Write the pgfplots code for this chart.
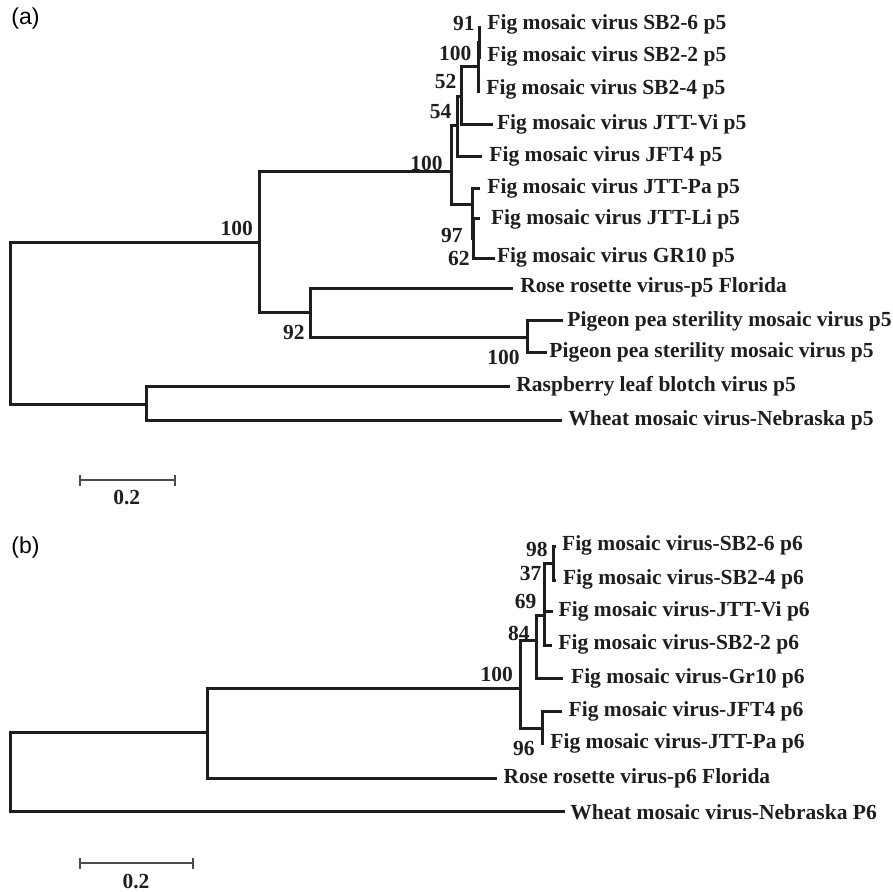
\documentclass[border=0pt]{standalone}
\usepackage{fontspec}
\setmainfont{Liberation Serif}
\newfontfamily\arialfont{Liberation Sans}
\usepackage{pgfplots}
\pgfplotsset{compat=1.18}
\definecolor{tree}{RGB}{30,30,30}
\definecolor{barc}{RGB}{75,75,75}
\tikzset{
  lbl/.style={font=\fontsize{10.75}{12}\selectfont\bfseries, text=tree, inner sep=0pt},
  bs/.style={font=\fontsize{10.75}{12}\selectfont\bfseries, text=tree, inner sep=0pt, anchor=east},
  panel/.style={font=\arialfont\fontsize{11.5}{13}\selectfont, text=black, inner sep=0pt, anchor=west},
}
\pgfplotsset{
  br/.style={color=tree, line width=1.5pt, mark=none, line join=miter},
  sb/.style={color=barc, line width=1pt, mark=none},
}
\begin{document}
\begin{tikzpicture}
\useasboundingbox (0,0) rectangle (446.5pt,-445.5pt);
% ---------------- panel (a): x in substitutions per site, y = row position
\begin{axis}[at={(0pt,0pt)}, anchor=north west, scale only axis,
  width=446.5pt, height=260pt,
  xmin=-0.02105, xmax=1.85895, ymin=0, ymax=520, y dir=reverse,
  hide axis, clip=false]
\addplot[br] coordinates {(0.5263,242.7) (0,242.7) (0,404) (0.2884,404)};
\addplot[br] coordinates {(1.0526,386.7) (0.2884,386.7) (0.2884,420) (1.1621,420)};
\addplot[br] coordinates {(0.9299,171.7) (0.5263,171.7) (0.5263,312.7) (0.6316,312.7)};
\addplot[br] coordinates {(1.0589,288.3) (0.6316,288.3) (0.6316,337.3) (1.0905,337.3)};
\addplot[br] coordinates {(1.1642,320.7) (1.0905,320.7) (1.0905,352.7) (1.1305,352.7)};
\addplot[br] coordinates {(0.9417,125.7) (0.9299,125.7) (0.9299,204) (0.9741,204)};
\addplot[br] coordinates {(0.9509,96.7) (0.9417,96.7) (0.9417,156.7) (0.9931,156.7)};
\addplot[br] coordinates {(0.9859,66.7) (0.9509,66.7) (0.9509,124) (1.0175,124)};
\addplot[br] coordinates {(0.9884,42) (0.9859,42) (0.9859,91) (0.9895,91)};
\addplot[br] coordinates {(0.9916,27) (0.9884,27) (0.9884,57) (0.9916,57)};
\addplot[br] coordinates {(0.9895,188.3) (0.9741,188.3) (0.9741,238.3) (0.9768,238.3)};
\addplot[br] coordinates {(0.9895,218.3) (0.9768,218.3) (0.9768,258.3) (1.0211,258.3)};
% scale bar 0.2
\addplot[sb] coordinates {(0.1474,480) (0.3474,480)};
\addplot[sb] coordinates {(0.1474,474.5) (0.1474,485.5)};
\addplot[sb] coordinates {(0.3474,474.5) (0.3474,485.5)};
\node[lbl] at (axis cs:0.2457,497) {0.2};
% tip labels
\node[lbl, anchor=west] at (axis cs:1.0042,24) {Fig mosaic virus SB2-6 p5};
\node[lbl, anchor=west] at (axis cs:1.0042,56) {Fig mosaic virus SB2-2 p5};
\node[lbl, anchor=west] at (axis cs:1.0021,89) {Fig mosaic virus SB2-4 p5};
\node[lbl, anchor=west] at (axis cs:1.0246,124) {Fig mosaic virus JTT-Vi p5};
\node[lbl, anchor=west] at (axis cs:1.0084,156.7) {Fig mosaic virus JFT4 p5};
\node[lbl, anchor=west] at (axis cs:1.0042,188.3) {Fig mosaic virus JTT-Pa p5};
\node[lbl, anchor=west] at (axis cs:1.0120,219) {Fig mosaic virus JTT-Li p5};
\node[lbl, anchor=west] at (axis cs:1.0246,257) {Fig mosaic virus GR10 p5};
\node[lbl, anchor=west] at (axis cs:1.0737,287.5) {Rose rosette virus-p5 Florida};
\node[lbl, anchor=west] at (axis cs:1.1726,321) {Pigeon pea sterility mosaic virus p5};
\node[lbl, anchor=west] at (axis cs:1.1347,352.7) {Pigeon pea sterility mosaic virus p5};
\node[lbl, anchor=west] at (axis cs:1.0653,386.7) {Raspberry leaf blotch virus p5};
\node[lbl, anchor=west] at (axis cs:1.1747,420) {Wheat mosaic virus-Nebraska p5};
% bootstrap values
\node[bs] at (axis cs:0.9789,23) {91};
\node[bs] at (axis cs:0.9720,53.3) {100};
\node[bs] at (axis cs:0.9404,81.7) {52};
\node[bs] at (axis cs:0.9299,111.7) {54};
\node[bs] at (axis cs:0.9116,163.3) {100};
\node[bs] at (axis cs:0.9537,235) {97};
\node[bs] at (axis cs:0.9684,258.3) {62};
\node[bs] at (axis cs:0.5122,228.3) {100};
\node[bs] at (axis cs:0.6211,332.7) {92};
\node[bs] at (axis cs:1.0737,357.3) {100};
\node[panel] at (axis cs:0.0021,19) {(a)};
\end{axis}
% ---------------- panel (b)
\begin{axis}[at={(0pt,-260pt)}, anchor=north west, scale only axis,
  width=446.5pt, height=185.5pt,
  xmin=-0.0177, xmax=1.56283, ymin=520, ymax=891, y dir=reverse,
  hide axis, clip=false]
\addplot[br] coordinates {(0.3504,732.7) (0,732.7) (0,811.7) (0.9823,811.7)};
\addplot[br] coordinates {(0.9027,688.3) (0.3504,688.3) (0.3504,778.3) (0.8614,778.3)};
\addplot[br] coordinates {(0.9310,640) (0.9027,640) (0.9027,728.3) (0.9428,728.3)};
\addplot[br] coordinates {(0.9765,711.7) (0.9428,711.7) (0.9428,743.3) (0.9451,743.3)};
\addplot[br] coordinates {(0.9457,615) (0.9310,615) (0.9310,678.3) (0.9793,678.3)};
\addplot[br] coordinates {(0.9628,563.3) (0.9457,563.3) (0.9457,645) (0.9593,645)};
\addplot[br] coordinates {(0.9457,611.7) (0.9605,611.7)};
\addplot[br] coordinates {(0.9664,546.7) (0.9628,546.7) (0.9628,580) (0.9664,580)};
% scale bar 0.2
\addplot[sb] coordinates {(0.1239,863.3) (0.3239,863.3)};
\addplot[sb] coordinates {(0.1239,857.8) (0.1239,868.8)};
\addplot[sb] coordinates {(0.3239,857.8) (0.3239,868.8)};
\node[lbl] at (axis cs:0.2230,881.7) {0.2};
% tip labels
\node[lbl, anchor=west] at (axis cs:0.9765,545.5) {Fig mosaic virus-SB2-6 p6};
\node[lbl, anchor=west] at (axis cs:0.9782,579.3) {Fig mosaic virus-SB2-4 p6};
\node[lbl, anchor=west] at (axis cs:0.9704,611.7) {Fig mosaic virus-JTT-Vi p6};
\node[lbl, anchor=west] at (axis cs:0.9699,644) {Fig mosaic virus-SB2-2 p6};
\node[lbl, anchor=west] at (axis cs:0.9924,678.3) {Fig mosaic virus-Gr10 p6};
\node[lbl, anchor=west] at (axis cs:0.9881,711.7) {Fig mosaic virus-JFT4 p6};
\node[lbl, anchor=west] at (axis cs:0.9558,743.3) {Fig mosaic virus-JTT-Pa p6};
\node[lbl, anchor=west] at (axis cs:0.8731,778.3) {Rose rosette virus-p6 Florida};
\node[lbl, anchor=west] at (axis cs:0.9912,811.7) {Wheat mosaic virus-Nebraska P6};
% bootstrap values
\node[bs] at (axis cs:0.9522,549.3) {98};
\node[bs] at (axis cs:0.9411,573.3) {37};
\node[bs] at (axis cs:0.9322,601.7) {69};
\node[bs] at (axis cs:0.9204,633.3) {84};
\node[bs] at (axis cs:0.8908,674) {100};
\node[bs] at (axis cs:0.9292,748.3) {96};
\node[panel] at (axis cs:0.0018,548) {(b)};
\end{axis}
\end{tikzpicture}
\end{document}
